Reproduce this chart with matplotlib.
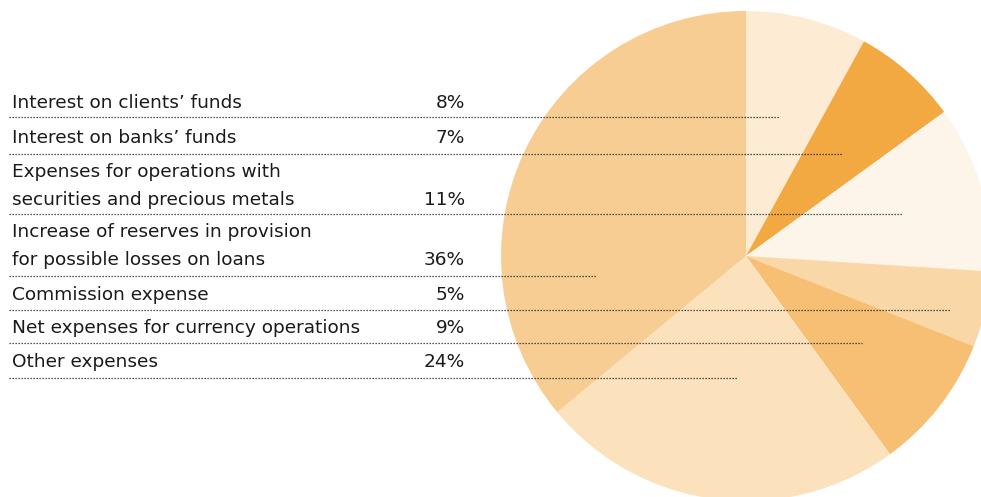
import matplotlib.pyplot as plt

# Expense structure (%), in the order of the list on the left
labels = [
    "Interest on clients\u2019 funds",
    "Interest on banks\u2019 funds",
    "Expenses for operations with\nsecurities and precious metals",
    "Increase of reserves in provision\nfor possible losses on loans",
    "Commission expense",
    "Net expenses for currency operations",
    "Other expenses",
]
shares = [8, 7, 11, 36, 5, 9, 24]
colors = ["#fdebd3", "#f2a942", "#fef5ea", "#f8cd93", "#fad7a6", "#f7bf73", "#fce1bd"]

# order of the slices clockwise from 12 o'clock
pie_order = [0, 1, 2, 4, 5, 6, 3]

W, H = 981, 497
fig = plt.figure(figsize=(W / 100, H / 100), dpi=100)
ax = fig.add_axes([0, 0, 1, 1])

ax.pie([shares[i] for i in pie_order],
       colors=[colors[i] for i in pie_order],
       startangle=90, counterclock=False,
       center=(746, H - 256), radius=245,
       wedgeprops=dict(linewidth=0), frame=True)
ax.set_xlim(0, W)
ax.set_ylim(0, H)
ax.axis("off")

# text rows: baseline of last text line, dotted rule y, rule end x
baselines = [108, 143, 205, 265, 300, 333, 367]
rule_y = [117, 154, 214, 276, 310, 343, 378]
rule_end = [779, 843, 903, 596, 951, 862, 737]
line_gap = 28

for i, lab in enumerate(labels):
    base = baselines[i]
    parts = lab.split("\n")
    for k, part in enumerate(parts):
        y = base - (len(parts) - 1 - k) * line_gap
        ax.text(12, H - y, part, fontsize=13.3, family="DejaVu Sans",
                color="#1a1a1a", va="baseline", ha="left")
    ax.text(465, H - base, f"{shares[i]}%", fontsize=13.3, family="DejaVu Sans",
            color="#1a1a1a", va="baseline", ha="right")
    ax.plot([9, rule_end[i]], [H - rule_y[i]] * 2, color="#222222",
            linewidth=0.9, linestyle=(0, (1, 1.4)), zorder=5)

fig.savefig("out.png", dpi=100)
